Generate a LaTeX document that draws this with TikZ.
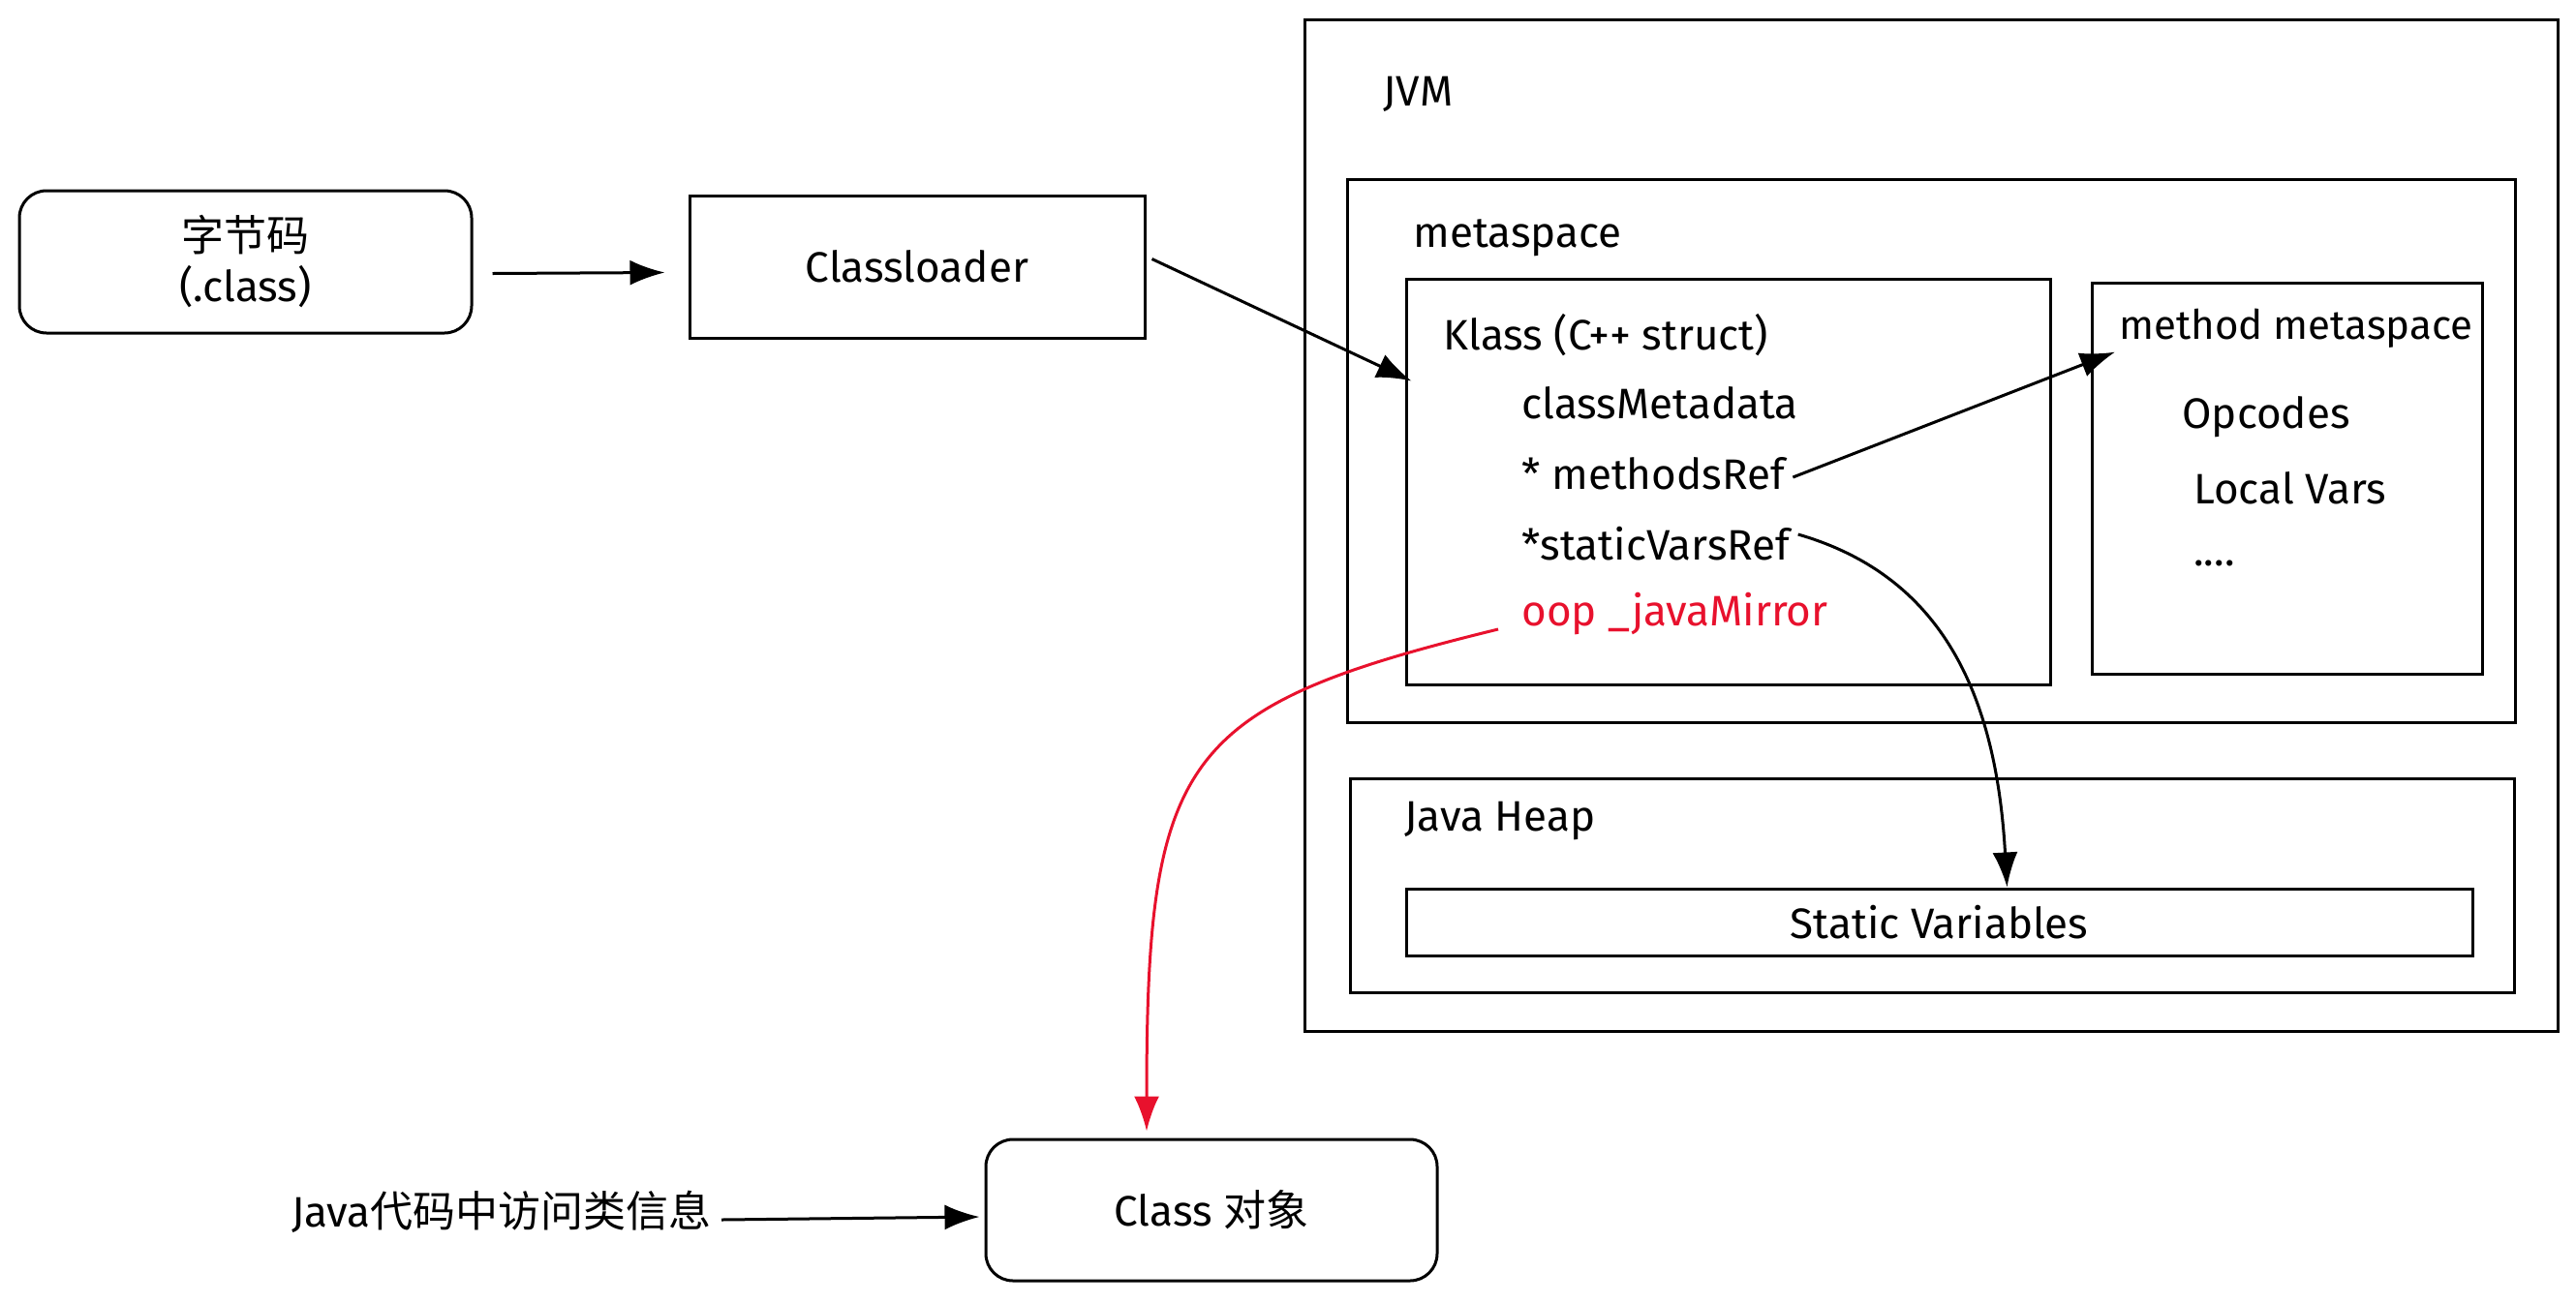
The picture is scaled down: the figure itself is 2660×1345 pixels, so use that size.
\documentclass[tikz,border=0pt]{standalone}
\usepackage{fontspec}
\setmainfont{Fira Sans}
\newfontfamily\cjk{Noto Sans CJK SC}
\usetikzlibrary{arrows.meta}
\definecolor{mirrorred}{HTML}{E8112D}
\begin{document}
\begin{tikzpicture}[x=0.5pt,y=-0.5pt,
  box/.style={draw, line width=1.5pt, rectangle, inner sep=0pt, font=\fontsize{22}{26}\selectfont, align=center},
  rbox/.style={box, rounded corners=14pt},
  lbl/.style={anchor=west, inner sep=0pt, font=\fontsize{22}{26}\selectfont},
  arr/.style={-{Latex[length=18pt,width=13pt]}, line width=1.5pt},
]
\useasboundingbox[fill=white] (0,0) rectangle (2660,1345);

% left side boxes
\node[rbox, minimum width=233.5pt, minimum height=73.5pt] (bytecode) at (253.5,270.5) {{\cjk 字节码}\\(.class)};
\node[box, minimum width=235pt, minimum height=73.5pt] (classloader) at (947,275.5) {Classloader};

% JVM structure
\node[box, minimum width=647pt, minimum height=522.5pt] (jvm) at (1994,542.5) {};
\node[lbl] (jvmlbl) at (1428,97) {JVM};
\node[box, minimum width=603pt, minimum height=280.5pt] (metaspace) at (1994,465.5) {};
\node[lbl] (metalbl) at (1459,246) {metaspace};
\node[box, minimum width=332.5pt, minimum height=209.5pt] (klass) at (1784.5,497.5) {};
\node[lbl] (klasslbl) at (1490,346) {Klass (C++ struct)};
\node[lbl] (cmeta) at (1571,416) {classMetadata};
\node[lbl] (mref) at (1571,489) {* methodsRef};
\node[lbl] (sref) at (1571,562) {*staticVarsRef};
\node[lbl, text=mirrorred] (mirror) at (1571,634) {oop \_javaMirror};

\node[box, minimum width=201.5pt, minimum height=202pt] (methodms) at (2361.5,494) {};
\node[lbl, font=\fontsize{21}{25}\selectfont] (mmlbl) at (2188,339) {method metaspace};
\node[lbl] (opcodes) at (2253,431) {Opcodes};
\node[lbl] (localvars) at (2265,504) {Local Vars};
\node[lbl] (dots) at (2265,582) {....};

\node[box, minimum width=601pt, minimum height=110.5pt] (heap) at (1995,914.5) {};
\node[lbl] (heaplbl) at (1450,848) {Java Heap};
\node[box, minimum width=550.5pt, minimum height=34.5pt] (staticvars) at (2002.5,952.5) {Static Variables};

% bottom
\node[rbox, minimum width=233pt, minimum height=73pt] (classobj) at (1251,1250) {Class {\cjk 对象}};
\node[lbl, anchor=east] (javacode) at (735,1252) {Java{\cjk 代码中访问类信息}};

% connectors
\draw[arr] ([xshift=10pt,yshift=-6pt]bytecode.east) -- ([xshift=-12pt,yshift=-3pt]classloader.west);
\draw[arr] ([xshift=3pt,yshift=4pt]classloader.east) -- ([xshift=3.5pt,yshift=-53.5pt]klass.north west);
\draw[arr] ([xshift=4pt,yshift=-2pt]mref.east) -- ([xshift=-2pt,yshift=-2pt]mmlbl.south west);
\draw[arr] ([xshift=4pt,yshift=5pt]sref.east) .. controls (2002,594) and (2061,712) .. ([xshift=35pt]staticvars.north);
\draw[arr, color=mirrorred] ([xshift=-12pt,yshift=-8pt]mirror.west) .. controls (1220,730) and (1184,780) .. ([xshift=-33.5pt,yshift=3.5pt]classobj.north);
\draw[arr] ([xshift=5pt,yshift=-4pt]javacode.east) -- ([xshift=-2.5pt,yshift=-3.5pt]classobj.west);
\end{tikzpicture}
\end{document}
